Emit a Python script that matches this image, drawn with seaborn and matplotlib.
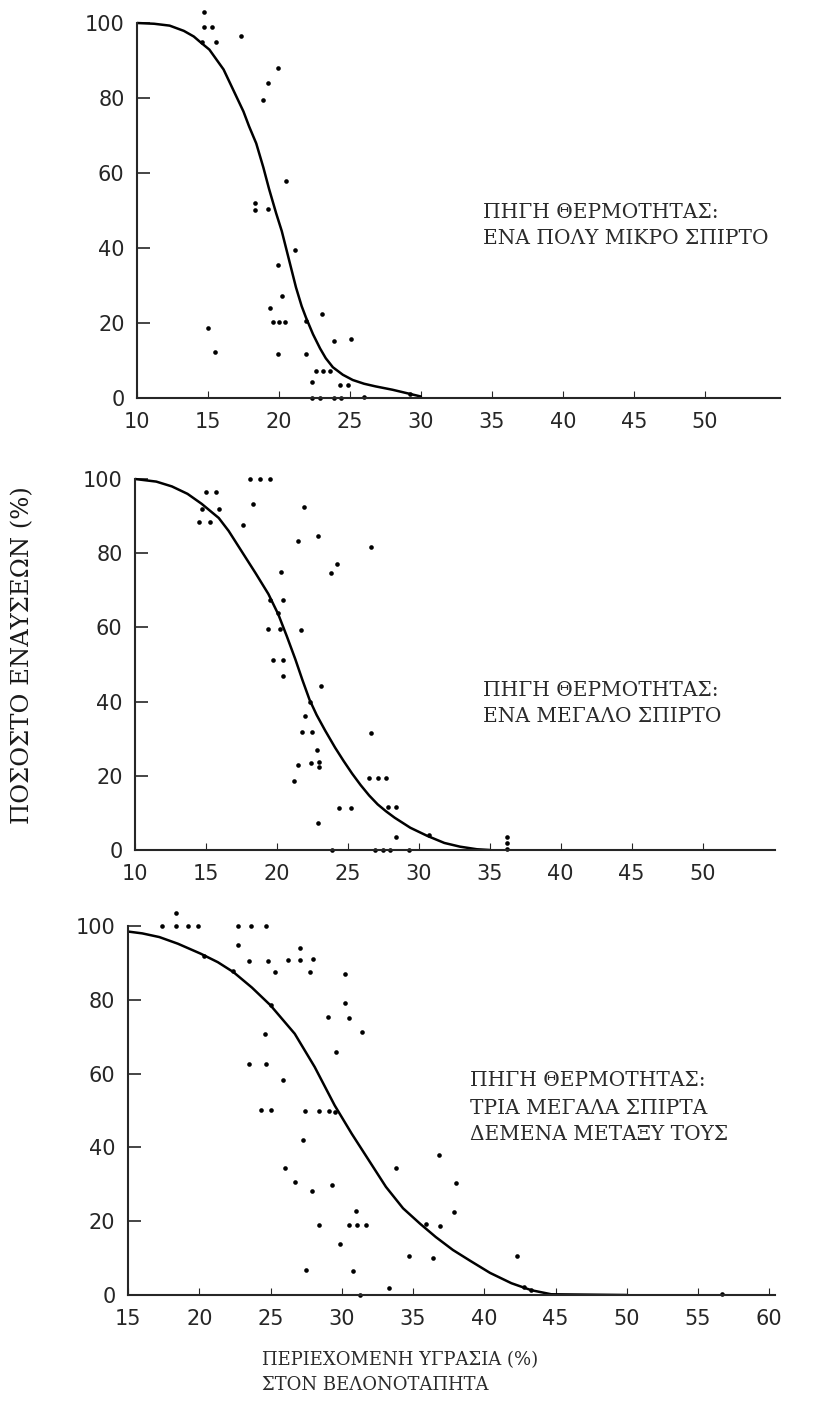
# Ignition probability vs needle-litter moisture, three heat sources
import numpy as np
import pandas as pd
import matplotlib
matplotlib.use('Agg')
import matplotlib.pyplot as plt
import seaborn as sns

# Panel 1: one very small match
small_x = [14.7, 14.7, 15.3, 14.6, 15.6, 17.3, 18.9, 19.2, 19.9, 18.3, 18.3, 19.2, 20.5,
           21.1, 19.9, 20.2, 19.4, 19.6, 20.0, 20.4, 15.0, 15.5, 19.9, 21.9, 23.0, 21.9,
           22.3, 22.6, 23.1, 23.6, 23.9, 25.1, 24.3, 24.9, 22.3, 22.9, 23.9, 24.4, 26.0, 29.2]
small_y = [103, 99, 99, 95, 95, 96.6, 79.5, 83.9, 88, 52, 50, 50.5, 57.8,
           39.4, 35.4, 27.1, 24, 20.2, 20.2, 20.2, 18.7, 12.4, 11.7, 20.4, 22.4, 11.7,
           4.2, 7.1, 7.1, 7.1, 15.2, 15.8, 3.6, 3.5, 0, 0, 0, 0, 0.3, 1]
small_curve_x = [10, 11.2, 12.3, 13.3, 14.0, 14.4, 15.1, 16.1, 16.5, 17.0, 17.5, 17.9,
                 18.4, 18.9, 19.3, 19.8, 20.2, 20.5, 20.9, 21.2, 21.6, 21.9, 22.4, 22.9,
                 23.3, 23.8, 24.5, 25.2, 26.0, 26.8, 28.0, 29.0, 30.0]
small_curve_y = [100, 99.8, 99.3, 97.9, 96.4, 95.1, 92.9, 87.6, 84.4, 80.4, 76.4, 72.4,
                 67.9, 61.5, 55.8, 49.3, 44.5, 40, 34, 29.5, 24.5, 21.5, 17, 13.2,
                 10.6, 8.2, 6.2, 4.8, 3.8, 3.1, 2.2, 1.3, 0.4]

# Panel 2: one large match
large_x = [18.1, 18.8, 19.5, 15.0, 15.7, 14.7, 15.9, 14.5, 15.3, 18.3, 17.6, 21.9, 21.5,
           22.9, 26.6, 23.8, 24.2, 20.3, 19.5, 20.4, 20.1, 19.4, 20.2, 21.7, 19.7, 20.4,
           20.4, 23.1, 22.3, 22.0, 21.8, 22.5, 22.8, 21.5, 22.4, 23.0, 23.0, 21.2, 22.9,
           26.6, 26.5, 27.1, 27.7, 24.4, 25.2, 27.8, 28.4, 28.4, 30.7, 23.9, 26.9, 27.5,
           28.0, 29.3, 36.2, 36.2, 36.2]
large_y = [100, 100, 100, 96.5, 96.5, 92, 92, 88.5, 88.5, 93.3, 87.7, 92.4, 83.4,
           84.7, 81.8, 74.6, 77.2, 75, 67.4, 67.4, 63.8, 59.6, 59.6, 59.2, 51.3, 51.3,
           46.8, 44.2, 39.8, 36.2, 31.9, 31.9, 27, 22.9, 23.4, 23.8, 22.3, 18.7, 7.4,
           31.5, 19.5, 19.5, 19.5, 11.2, 11.2, 11.7, 11.7, 3.6, 4, 0, 0, 0,
           0, 0, 3.5, 1.8, 0.3]
large_curve_x = [10, 11.5, 12.6, 13.7, 14.7, 15.9, 16.6, 17.3, 18.5, 19.4, 20.1, 20.7,
                 21.3, 21.8, 22.3, 22.8, 23.4, 24.1, 24.7, 25.3, 25.9, 26.5, 27.1, 27.7,
                 28.3, 29.4, 30.6, 31.8, 32.9, 34.1, 35.0]
large_curve_y = [100, 99.3, 98, 96, 93.3, 89.5, 86, 81.8, 74.6, 69, 63.5, 57.6,
                 51.4, 45.8, 40.5, 36.4, 32.2, 27.6, 24.0, 20.6, 17.5, 14.7, 12.3, 10.4,
                 8.7, 6.0, 3.8, 1.9, 0.9, 0.2, 0]

# Panel 3: three large matches tied together
three_x = [18.4, 17.4, 18.4, 19.2, 19.9, 22.7, 23.6, 24.7, 22.7, 27.1, 23.5, 24.8, 26.2,
           27.1, 28.0, 25.3, 27.8, 22.4, 20.3, 25.0, 30.2, 30.2, 30.5, 29.0, 31.4, 24.6,
           29.6, 23.5, 24.7, 25.9, 24.3, 25.0, 27.4, 28.4, 29.1, 29.5, 27.3, 26.0, 26.7,
           27.9, 29.3, 28.4, 31.0, 30.5, 31.1, 31.7, 29.9, 30.8, 27.5, 33.8, 36.8, 38.0,
           37.9, 36.9, 35.9, 34.7, 36.4, 33.3, 31.3, 42.3, 42.8, 43.3, 56.7]
three_y = [103.5, 100, 100, 100, 100, 100, 100, 100, 94.8, 94, 90.5, 90.5, 90.7,
           90.7, 91, 87.5, 87.5, 87.8, 91.8, 78.5, 86.9, 79.1, 75.2, 75.3, 71.3, 70.8,
           65.9, 62.5, 62.5, 58.4, 50.2, 50.2, 50, 50, 50, 49.5, 42.1, 34.4, 30.6,
           28.1, 29.7, 19.1, 22.8, 18.9, 18.9, 18.9, 13.9, 6.5, 6.9, 34.4, 37.9, 30.4,
           22.5, 18.7, 19.2, 10.7, 10.1, 1.9, 0, 10.5, 2.2, 1.3, 0.3]
three_curve_x = [15, 16, 17.2, 18.5, 20.1, 21.3, 22.4, 23.7, 25.0, 26.7, 28.1, 29.5,
                 30.7, 31.9, 33.1, 34.3, 35.5, 36.6, 37.8, 39.0, 40.4, 41.9, 43.3, 44.7, 50.0]
three_curve_y = [98.5, 98, 97, 95.2, 92.5, 90.2, 87.5, 83.3, 78.5, 70.8, 61.8, 51.4,
                 43.7, 36.5, 29.3, 23.5, 19.3, 15.7, 12.2, 9.3, 6.0, 3.2, 1.3, 0.2, 0]

small_label = ['ΠΗΓΗ ΘΕΡΜΟΤΗΤΑΣ:', 'ΕΝΑ ΠΟΛΥ ΜΙΚΡΟ ΣΠΙΡΤΟ']
large_label = ['ΠΗΓΗ ΘΕΡΜΟΤΗΤΑΣ:', 'ΕΝΑ ΜΕΓΑΛΟ ΣΠΙΡΤΟ']
three_label = ['ΠΗΓΗ ΘΕΡΜΟΤΗΤΑΣ:', 'ΤΡΙΑ ΜΕΓΑΛΑ ΣΠΙΡΤΑ', 'ΔΕΜΕΝΑ ΜΕΤΑΞΥ ΤΟΥΣ']
y_title = 'ΠΟΣΟΣΤΟ ΕΝΑΥΣΕΩΝ (%)'
x_title = ['ΠΕΡΙΕΧΟΜΕΝΗ ΥΓΡΑΣΙΑ (%)', 'ΣΤΟΝ ΒΕΛΟΝΟΤΑΠΗΤΑ']

sns.set_style('ticks')
plt.rcParams['font.family'] = ['DejaVu Sans']

W, H = 818, 1415
fig = plt.figure(figsize=(W / 100, H / 100), dpi=100)

# pixel geometry of each panel: left, right, y of 0 %, y of 100 %
panels = [
    (small_x, small_y, small_curve_x, small_curve_y, (10, 55.3), range(10, 55, 5),
     (137, 780, 398, 23), small_label, (483, 212)),
    (large_x, large_y, large_curve_x, large_curve_y, (10, 55.1), range(10, 55, 5),
     (135, 775, 850, 479), large_label, (483, 690)),
    (three_x, three_y, three_curve_x, three_curve_y, (15, 60.4), range(15, 61, 5),
     (128, 775, 1295, 926), three_label, (470, 1081)),
]

for px, py, cx, cy, xlim, xticks, geo, label, txy in panels:
    left, right, y0, y100 = geo
    ytop = y0 - 1.04 * (y0 - y100)
    ax = fig.add_axes([left / W, 1 - y0 / H, (right - left) / W, (y0 - ytop) / H])

    sns.lineplot(x=cx, y=cy, ax=ax, color='black', lw=1.8, sort=False, estimator=None)
    sns.scatterplot(x=px, y=py, ax=ax, color='black', s=11, linewidth=0, clip_on=False)

    ax.set_xlim(*xlim)
    ax.set_ylim(0, 104)
    ax.set_xticks(list(xticks))
    ax.set_yticks([0, 20, 40, 60, 80, 100])
    ax.spines[['top', 'right']].set_visible(False)
    ax.spines['left'].set_bounds(0, 100)
    for s in ['left', 'bottom']:
        ax.spines[s].set_linewidth(1.5)
    ax.tick_params(axis='y', direction='in', length=9, width=1.2, pad=9, labelsize=15)
    ax.tick_params(axis='x', direction='in', length=5, width=0.8, pad=10, labelsize=15)
    ax.set_xlabel('')
    ax.set_ylabel('')

    # heat source note
    for i, line in enumerate(label):
        fig.text(txy[0] / W, 1 - (txy[1] + i * 27) / H, line, fontsize=14.5,
                 family='DejaVu Serif', color='#2a2a2a', va='center', ha='left')

# shared axis titles
fig.text(23 / W, 1 - 655 / H, y_title, rotation=90, fontsize=17.5, family='DejaVu Serif',
         color='#1a1a1a', va='center', ha='center')
for i, line in enumerate(x_title):
    fig.text(262 / W, 1 - (1360 + i * 25) / H, line, fontsize=13, family='DejaVu Serif',
             color='#2a2a2a', va='center', ha='left')

plt.savefig('out.png', dpi=100, facecolor='white')
